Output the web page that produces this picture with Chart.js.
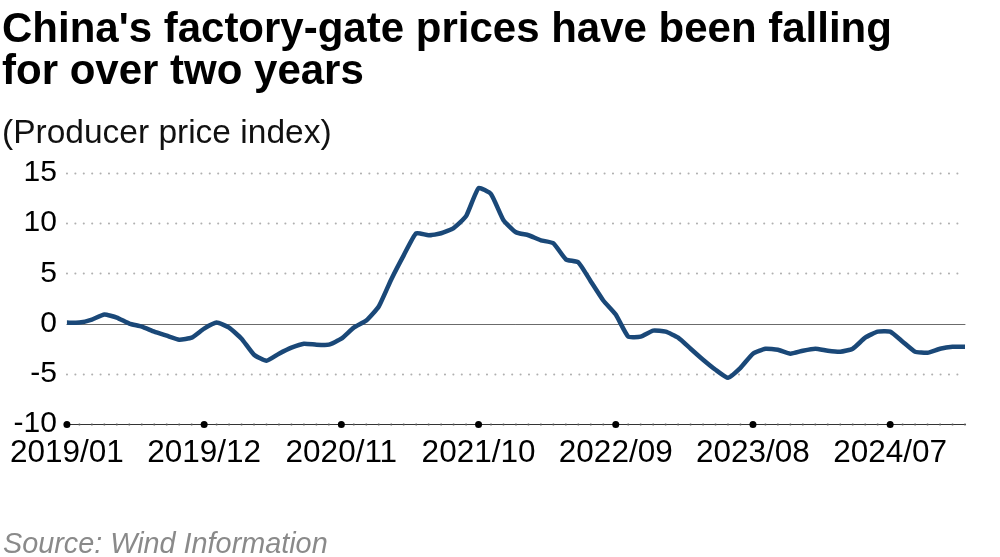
<!DOCTYPE html>
<html>
<head>
<meta charset="utf-8">
<script src="https://cdn.jsdelivr.net/npm/chart.js@4"></script>
<style>
  html, body { margin: 0; padding: 0; background: #fff; }
  #wrap { position: relative; width: 1000px; height: 557px; overflow: hidden; font-family: "Liberation Sans", Arial, sans-serif; }
  #title { position: absolute; left: 2px; top: 7px; font-size: 42px; font-weight: bold; line-height: 42px; color: #000; }
  #subtitle { position: absolute; left: 2px; top: 115px; font-size: 33.5px; line-height: 1; color: #111; }
  #source { position: absolute; left: 3px; top: 529px; font-size: 28.8px; line-height: 1; font-style: italic; color: #8a8a8a; }
  #chart { position: absolute; left: 0; top: 0; }
</style>
</head>
<body>
<div id="wrap">
  <canvas id="chart" width="1000" height="557"></canvas>
  <div id="title">China's factory-gate prices have been falling<br>for over two years</div>
  <div id="subtitle">(Producer price index)</div>
  <div id="source">Source: Wind Information</div>
</div>
<script>
/* ===== Data ===== */
// PPI, year-on-year %, monthly 2019/01 - 2025/01
const ppi2019 = [0.1, 0.1, 0.4, 0.9, 0.6, 0.0, -0.3, -0.8, -1.2, -1.6, -1.4, -0.5];
const ppi2020 = [0.1, -0.4, -1.5, -3.1, -3.7, -3.0, -2.4, -2.0, -2.1, -2.1, -1.5, -0.4];
const ppi2021 = [0.3, 1.7, 4.4, 6.8, 9.0, 8.8, 9.0, 9.5, 10.7, 13.5, 12.9, 10.3];
const ppi2022 = [9.1, 8.8, 8.3, 8.0, 6.4, 6.1, 4.2, 2.3, 0.9, -1.3, -1.3, -0.7];
const ppi2023 = [-0.8, -1.4, -2.5, -3.6, -4.6, -5.4, -4.4, -3.0, -2.5, -2.6, -3.0, -2.7];
const ppi2024 = [-2.5, -2.7, -2.8, -2.5, -1.4, -0.8, -0.8, -1.8, -2.8, -2.9, -2.5, -2.3];
const ppi2025 = [-2.3];

const ppiValues = [...ppi2019, ...ppi2020, ...ppi2021, ...ppi2022, ...ppi2023, ...ppi2024, ...ppi2025];

const xTickLabels = ["2019/01", "2019/12", "2020/11", "2021/10", "2022/09", "2023/08", "2024/07"];
const yTickValues = [15, 10, 5, 0, -5, -10];

// month categories
const months = [];
for (let i = 0; i < ppiValues.length; i++) {
  const y = 2019 + Math.floor(i / 12);
  const m = (i % 12) + 1;
  months.push(`${y}/${String(m).padStart(2, "0")}`);
}

/* ===== Helpers ===== */
const FONT = '"Liberation Sans", Arial, sans-serif';

const gridPlugin = {
  id: "customGrid",
  beforeDatasetsDraw(chart) {
    const { ctx, chartArea, scales } = chart;
    const x = scales.x;
    const y = scales.y;
    ctx.save();
    yTickValues.forEach((v) => {
      const py = Math.round(y.getPixelForValue(v)) + 0.5;
      ctx.beginPath();
      if (v === 0) {
        ctx.strokeStyle = "#6b6b6b";
        ctx.lineWidth = 1;
        ctx.setLineDash([]);
        ctx.moveTo(chartArea.left, py);
        ctx.lineTo(chartArea.right, py);
      } else if (v === y.min) {
        ctx.strokeStyle = "#333";
        ctx.lineWidth = 1;
        ctx.setLineDash([]);
        ctx.moveTo(chartArea.left, py);
        ctx.lineTo(chartArea.right, py);
      } else {
        ctx.strokeStyle = "#b0b0b0";
        ctx.lineWidth = 2;
        ctx.lineCap = "round";
        ctx.setLineDash([0.1, 8.3]);
        ctx.moveTo(chartArea.left, py);
        ctx.lineTo(chartArea.right, py);
      }
      ctx.stroke();
    });
    ctx.setLineDash([]);
    // month ticks and major dots on the bottom axis
    const by = Math.round(y.getPixelForValue(y.min)) + 0.5;
    months.forEach((m, i) => {
      const px = x.getPixelForValue(i);
      ctx.beginPath();
      if (xTickLabels.includes(m)) {
        ctx.fillStyle = "#000";
        ctx.arc(px, by, 3.5, 0, Math.PI * 2);
      } else {
        ctx.fillStyle = "#555";
        ctx.arc(px, by, 1.1, 0, Math.PI * 2);
      }
      ctx.fill();
    });
    ctx.restore();
  },
};

/* ===== Chart ===== */
new Chart(document.getElementById("chart").getContext("2d"), {
  type: "line",
  data: {
    labels: months,
    datasets: [
      {
        data: ppiValues,
        borderColor: "#1a4878",
        borderWidth: 4.5,
        tension: 0.15,
        pointRadius: 0,
        borderJoinStyle: "round",
        borderCapStyle: "butt",
        fill: false,
        clip: false,
      },
    ],
  },
  options: {
    responsive: false,
    animation: false,
    layout: { padding: { top: 173, right: 35, left: 0, bottom: 0 } },
    plugins: { legend: { display: false }, tooltip: { enabled: false } },
    scales: {
      x: {
        type: "category",
        offset: false,
        grid: { display: false, drawTicks: false },
        border: { display: false },
        afterFit: (scale) => { scale.height = 133; },
        ticks: {
          autoSkip: false,
          maxRotation: 0,
          minRotation: 0,
          padding: 10,
          color: "#000",
          font: { family: FONT, size: 31.5 },
          callback: function (val, idx) {
            const label = this.getLabelForValue(idx);
            return xTickLabels.includes(label) ? label : "";
          },
        },
      },
      y: {
        min: -10,
        max: 15,
        grid: { display: false, drawTicks: false },
        border: { display: false },
        afterFit: (scale) => { scale.width = 62; },
        ticks: {
          stepSize: 5,
          padding: 10,
          color: "#000",
          font: { family: FONT, size: 30 },
        },
      },
    },
  },
  plugins: [gridPlugin],
});
</script>
</body>
</html>
